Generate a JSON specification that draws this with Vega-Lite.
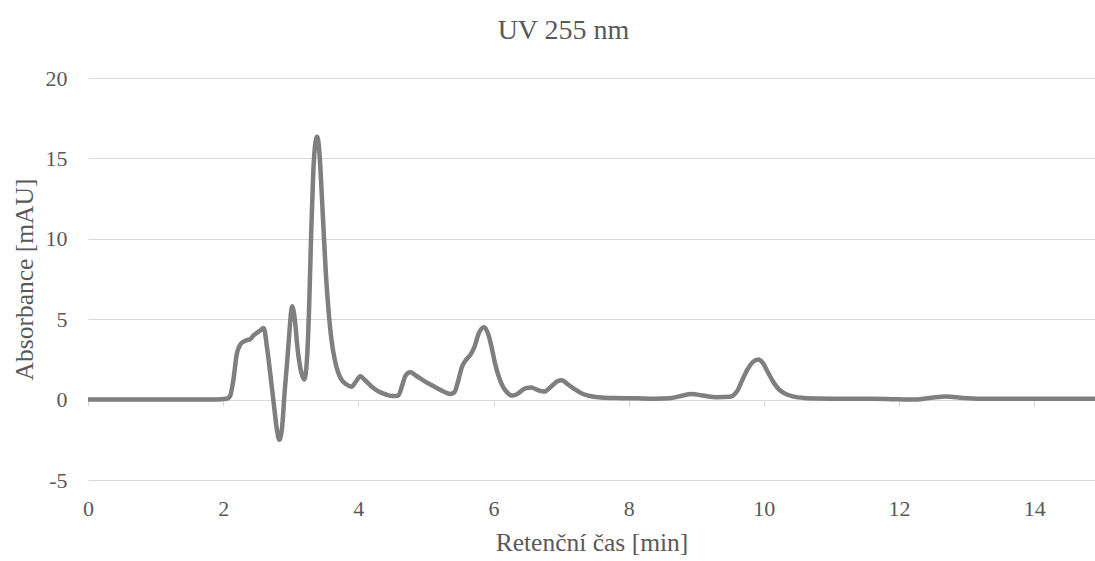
{
  "$schema": "https://vega.github.io/schema/vega-lite/v6.json",
  "width": 1007,
  "height": 402,
  "autosize": {"type": "none"},
  "padding": {"left": 88, "top": 78, "right": 0, "bottom": 81},
  "background": "white",
  "config": {
    "view": {"stroke": null},
    "font": "Liberation Serif"
  },
  "title": {
    "text": "UV 255 nm",
    "font": "Liberation Serif",
    "fontSize": 28,
    "fontWeight": "normal",
    "color": "#595959",
    "anchor": "middle",
    "dx": -28,
    "offset": 22
  },
  "data": {
    "values": [
      {"t": 0, "a": 0}, {"t": 0.5, "a": 0}, {"t": 1.0, "a": 0}, {"t": 1.5, "a": 0}, {"t": 1.9, "a": 0},
      {"t": 2.05, "a": 0.05}, {"t": 2.1, "a": 0.2}, {"t": 2.15, "a": 1.2}, {"t": 2.2, "a": 2.8},
      {"t": 2.25, "a": 3.4}, {"t": 2.3, "a": 3.6}, {"t": 2.35, "a": 3.7}, {"t": 2.4, "a": 3.75},
      {"t": 2.45, "a": 4.0}, {"t": 2.5, "a": 4.15}, {"t": 2.55, "a": 4.3}, {"t": 2.6, "a": 4.45},
      {"t": 2.65, "a": 3.2}, {"t": 2.7, "a": 1.5}, {"t": 2.75, "a": -0.3}, {"t": 2.8, "a": -2.0},
      {"t": 2.83, "a": -2.5}, {"t": 2.87, "a": -1.8}, {"t": 2.91, "a": 0.5}, {"t": 2.95, "a": 2.5},
      {"t": 2.98, "a": 4.2}, {"t": 3.02, "a": 5.8}, {"t": 3.06, "a": 5.0}, {"t": 3.1, "a": 3.2},
      {"t": 3.15, "a": 1.8}, {"t": 3.2, "a": 1.25}, {"t": 3.24, "a": 2.5}, {"t": 3.27, "a": 5.5},
      {"t": 3.3, "a": 10}, {"t": 3.33, "a": 13.8}, {"t": 3.36, "a": 15.8}, {"t": 3.39, "a": 16.35},
      {"t": 3.42, "a": 15.6}, {"t": 3.45, "a": 13.5}, {"t": 3.48, "a": 11.0}, {"t": 3.52, "a": 7.8},
      {"t": 3.56, "a": 5.5}, {"t": 3.6, "a": 3.8}, {"t": 3.65, "a": 2.5}, {"t": 3.7, "a": 1.7},
      {"t": 3.75, "a": 1.25}, {"t": 3.82, "a": 0.95}, {"t": 3.9, "a": 0.8}, {"t": 3.96, "a": 1.1},
      {"t": 4.03, "a": 1.45}, {"t": 4.1, "a": 1.2}, {"t": 4.2, "a": 0.8}, {"t": 4.3, "a": 0.5},
      {"t": 4.42, "a": 0.3}, {"t": 4.52, "a": 0.22}, {"t": 4.59, "a": 0.25}, {"t": 4.65, "a": 0.9},
      {"t": 4.7, "a": 1.5}, {"t": 4.77, "a": 1.7}, {"t": 4.85, "a": 1.5}, {"t": 4.96, "a": 1.2},
      {"t": 5.06, "a": 0.95}, {"t": 5.16, "a": 0.72}, {"t": 5.26, "a": 0.5}, {"t": 5.36, "a": 0.35},
      {"t": 5.42, "a": 0.45}, {"t": 5.48, "a": 1.2}, {"t": 5.53, "a": 2.0}, {"t": 5.6, "a": 2.5},
      {"t": 5.66, "a": 2.8}, {"t": 5.72, "a": 3.3}, {"t": 5.78, "a": 4.1}, {"t": 5.86, "a": 4.5},
      {"t": 5.92, "a": 4.1}, {"t": 5.97, "a": 3.3}, {"t": 6.02, "a": 2.3}, {"t": 6.08, "a": 1.4},
      {"t": 6.14, "a": 0.8}, {"t": 6.2, "a": 0.45}, {"t": 6.27, "a": 0.25}, {"t": 6.33, "a": 0.3},
      {"t": 6.4, "a": 0.5}, {"t": 6.47, "a": 0.7}, {"t": 6.56, "a": 0.75}, {"t": 6.65, "a": 0.6},
      {"t": 6.75, "a": 0.5}, {"t": 6.85, "a": 0.8}, {"t": 6.95, "a": 1.15}, {"t": 7.01, "a": 1.2},
      {"t": 7.1, "a": 0.95}, {"t": 7.2, "a": 0.65}, {"t": 7.3, "a": 0.4}, {"t": 7.4, "a": 0.25},
      {"t": 7.55, "a": 0.15}, {"t": 7.8, "a": 0.1}, {"t": 8.1, "a": 0.08}, {"t": 8.4, "a": 0.05},
      {"t": 8.6, "a": 0.08}, {"t": 8.75, "a": 0.2}, {"t": 8.93, "a": 0.35}, {"t": 9.1, "a": 0.25},
      {"t": 9.3, "a": 0.15}, {"t": 9.5, "a": 0.18}, {"t": 9.6, "a": 0.5}, {"t": 9.68, "a": 1.2},
      {"t": 9.76, "a": 1.9}, {"t": 9.84, "a": 2.35}, {"t": 9.92, "a": 2.5}, {"t": 9.99, "a": 2.25},
      {"t": 10.06, "a": 1.7}, {"t": 10.14, "a": 1.1}, {"t": 10.22, "a": 0.65}, {"t": 10.3, "a": 0.4},
      {"t": 10.43, "a": 0.2}, {"t": 10.6, "a": 0.1}, {"t": 10.8, "a": 0.07}, {"t": 11.2, "a": 0.05},
      {"t": 11.6, "a": 0.05}, {"t": 12.0, "a": 0.02}, {"t": 12.2, "a": 0.0}, {"t": 12.45, "a": 0.1},
      {"t": 12.7, "a": 0.2}, {"t": 12.95, "a": 0.1}, {"t": 13.2, "a": 0.05}, {"t": 13.6, "a": 0.05},
      {"t": 14.0, "a": 0.05}, {"t": 14.4, "a": 0.05}, {"t": 14.9, "a": 0.05}
    ]
  },
  "mark": {"type": "line", "color": "#7f7f7f", "strokeWidth": 4.5, "interpolate": "monotone", "strokeCap": "round", "strokeJoin": "round", "clip": true},
  "encoding": {
    "x": {
      "field": "t",
      "type": "quantitative",
      "scale": {"domain": [0, 14.9], "nice": false, "zero": false},
      "axis": {
        "title": "Retenční čas [min]",
        "values": [0, 2, 4, 6, 8, 10, 12, 14],
        "offset": -80,
        "grid": false,
        "domain": true,
        "domainColor": "#d9d9d9",
        "domainWidth": 1,
        "ticks": true,
        "tickColor": "#d9d9d9",
        "tickSize": 6,
        "labelPadding": 92,
        "labelFont": "Liberation Serif",
        "labelFontSize": 22,
        "labelColor": "#595959",
        "labelFlush": false,
        "titleFont": "Liberation Serif",
        "titleFontSize": 25.5,
        "titleFontWeight": "normal",
        "titleColor": "#595959",
        "titlePadding": 11
      }
    },
    "y": {
      "field": "a",
      "type": "quantitative",
      "scale": {"domain": [-5, 20], "nice": false},
      "axis": {
        "title": "Absorbance [mAU]",
        "values": [-5, 0, 5, 10, 15, 20],
        "labelExpr": "'' + datum.value",
        "grid": true,
        "gridColor": "#d9d9d9",
        "gridWidth": 1,
        "domain": false,
        "ticks": false,
        "labelPadding": 21,
        "labelFont": "Liberation Serif",
        "labelFontSize": 22,
        "labelColor": "#595959",
        "titleFont": "Liberation Serif",
        "titleFontSize": 25.5,
        "titleFontWeight": "normal",
        "titleColor": "#595959",
        "titlePadding": 8
      }
    }
  }
}
